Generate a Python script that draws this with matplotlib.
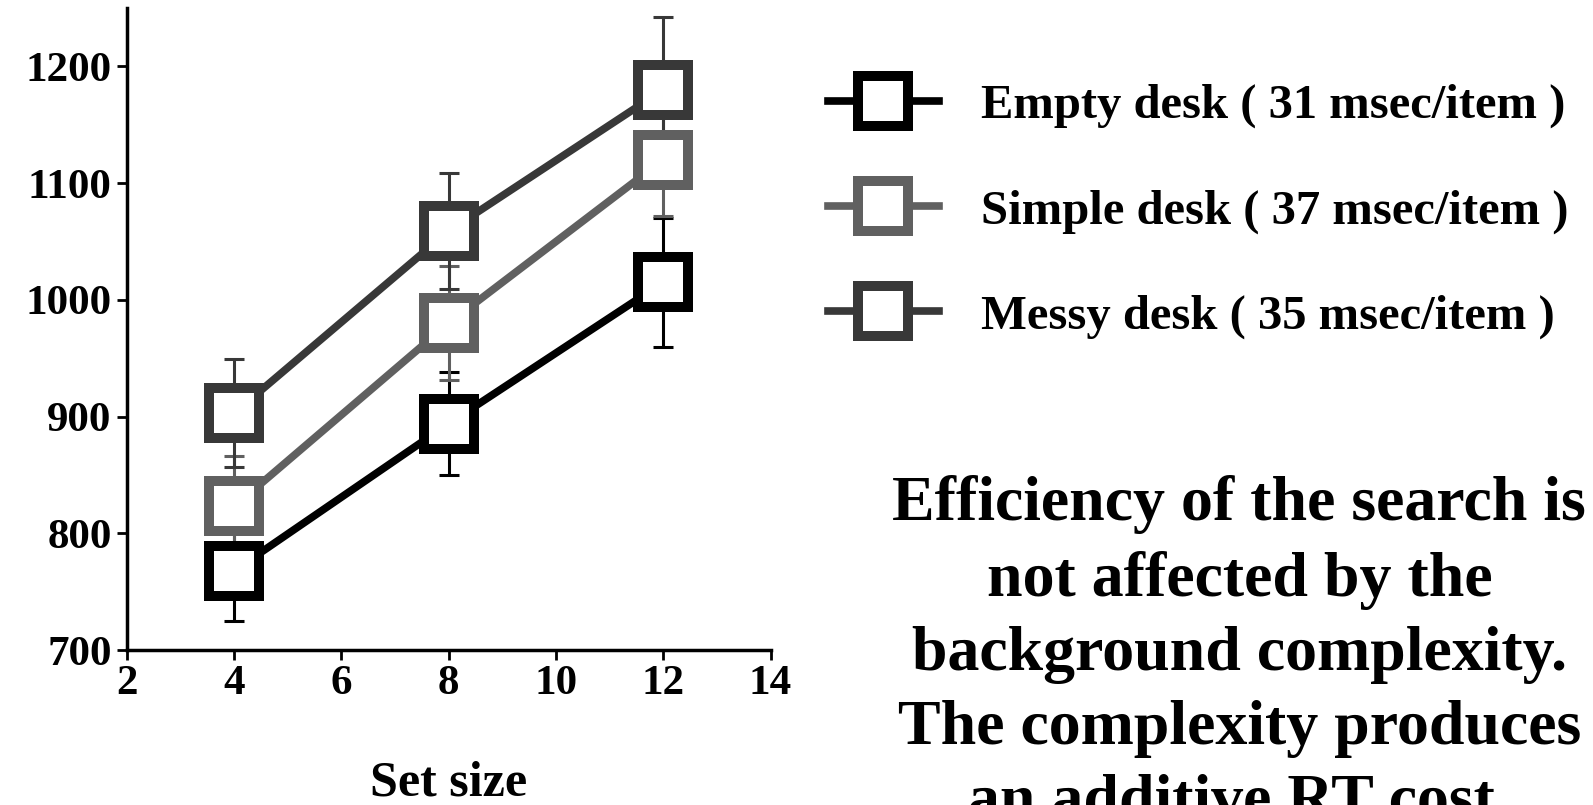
import matplotlib
matplotlib.use('Agg')
import matplotlib.pyplot as plt

plt.rcParams['font.family'] = 'Liberation Serif'
plt.rcParams['font.weight'] = 'bold'

# data
set_size = [4, 8, 12]
empty_rt = [768, 894, 1015]
simple_rt = [823, 980, 1120]
messy_rt = [903, 1059, 1180]
empty_err = [43, 44, 55]
simple_err = [43, 49, 48]
messy_err = [46, 50, 62]

labels = ['Empty desk ( 31 msec/item )',
          'Simple desk ( 37 msec/item )',
          'Messy desk ( 35 msec/item )']
colors = ['#000000', '#606060', '#383838']

fig = plt.figure(figsize=(15.93, 8.05), dpi=100)
ax = fig.add_axes([0.0797, 0.1925, 0.404, 0.7975])

handles = []
for rt, err, c, lab in zip([empty_rt, simple_rt, messy_rt],
                           [empty_err, simple_err, messy_err], colors, labels):
    ax.errorbar(set_size, rt, yerr=err, fmt='none', ecolor=c, elinewidth=2.2,
                capsize=7.5, capthick=2.2, zorder=2)
    h, = ax.plot(set_size, rt, color=c, lw=5.5, marker='s', ms=36, mew=7.2,
                 mfc='white', mec=c, label=lab, zorder=3)
    handles.append(h)

ax.set_xlim(2, 14)
ax.set_ylim(700, 1250)
ax.set_xticks(range(2, 15, 2))
ax.set_yticks(range(700, 1201, 100))
for s in ['top', 'right']:
    ax.spines[s].set_visible(False)
for s in ['left', 'bottom']:
    ax.spines[s].set_linewidth(2.5)
ax.tick_params(direction='out', length=7, width=2, labelsize=31, pad=4)
ax.set_xlabel('Set size', fontsize=36, fontweight='bold', labelpad=41)

fig.legend(handles=handles, loc='upper left', bbox_to_anchor=(0.492, 0.95),
           frameon=False, handlelength=2.3, handletextpad=0.85,
           labelspacing=1.25, prop={'weight': 'bold', 'size': 35})

# the last line runs off the bottom edge, as in the original slide
fig.text(0.778, 0.41,
         'Efficiency of the search is\nnot affected by the\nbackground complexity.\n'
         'The complexity produces\nan additive RT cost.',
         ha='center', va='top', fontsize=46, fontweight='bold', linespacing=1.37)

fig.savefig('out.png', dpi=100)
